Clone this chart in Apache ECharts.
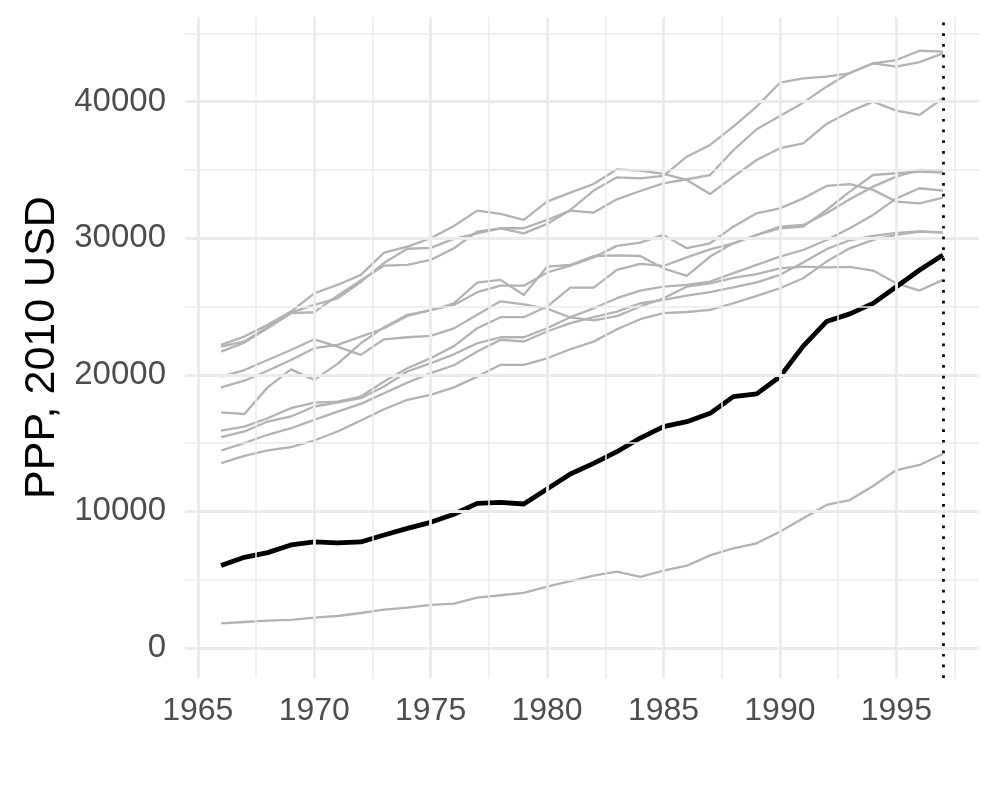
<!DOCTYPE html>
<html>
<head>
<meta charset="utf-8">
<script src="https://cdn.jsdelivr.net/npm/echarts@6/dist/echarts.min.js"></script>
<style>html,body{margin:0;padding:0;background:#fff;}#c{width:1000px;height:800px;}</style>
</head>
<body>
<div id="c"></div>
<script>
const years = [1966,1967,1968,1969,1970,1971,1972,1973,1974,1975,1976,1977,1978,1979,1980,1981,1982,1983,1984,1985,1986,1987,1988,1989,1990,1991,1992,1993,1994,1995,1996,1997];
const treated = [6030,6640,6980,7540,7760,7690,7760,8270,8760,9200,9790,10590,10660,10540,11640,12740,13520,14370,15370,16200,16570,17180,18400,18600,19860,22100,23900,24460,25230,26450,27670,28770];
const donorA = [22190,22800,23660,24630,25970,26580,27320,28950,29390,30000,30900,32020,31780,31340,32680,33340,33970,35050,34950,34710,34270,33240,34510,35730,36590,36950,38370,39270,40000,39340,39030,40250];
const donorB = [21700,22360,23410,24510,24580,25800,26900,28000,28050,28410,29270,30490,30730,30360,31050,32070,33490,34460,34390,34560,35970,36830,38170,39640,41390,41710,41830,42080,42810,43050,43730,43660];
const donorC = [22070,22440,23500,24550,25120,25600,26800,28200,29230,29300,29950,30360,30730,30730,31340,32020,31880,32850,33460,34020,34320,34630,36440,37980,38950,39930,41100,42120,42800,42560,42900,43540];
const donorD = [19860,20350,21080,21820,22600,22070,21460,22600,22750,22850,23400,24400,25380,25150,24850,24200,23980,24300,25000,25600,26450,26700,27100,27380,27800,27920,27870,27900,27630,26700,26170,26950];
const donorE = [19080,19570,20300,21080,21950,22190,22800,23410,24310,24750,25120,26050,26530,26530,27490,28000,28600,29440,29680,30240,29270,29630,30850,31830,32190,32920,33830,33970,33540,32680,32560,32970];
const donorF = [17250,17130,19080,20400,19630,20800,22310,23490,24390,24710,25240,26750,26950,25850,27920,28040,28700,28750,28700,27800,27240,28660,29630,30240,30850,30970,31830,32850,33780,34510,35000,34950];
const donorG = [15920,16210,16820,17560,17970,18040,18410,19510,20480,21220,22100,23410,24220,24220,25000,26390,26390,27680,28120,27970,28600,29190,29630,30240,30730,30850,32070,33410,34630,34760,34880,34800];
const donorH = [15430,15850,16580,16950,17680,17970,18290,19140,20240,20850,21500,22310,22750,22750,23410,24220,24870,25610,26170,26460,26580,26830,27440,28050,28660,29140,29870,30730,31710,32920,33660,33490];
const donorI = [14460,15000,15610,16090,16700,17310,17870,18650,19430,20120,20700,21700,22560,22440,23170,23780,24220,24630,25240,25480,25800,26050,26400,26770,27320,28230,29200,29850,30180,30390,30510,30430];
const donorJ = [13530,14070,14460,14700,15190,15850,16650,17480,18170,18530,19080,19870,20730,20730,21210,21870,22430,23340,24070,24510,24600,24750,25240,25780,26340,27070,28290,29260,29880,30240,30490,30410];
const donorK = [1800,1900,2000,2050,2220,2340,2560,2800,2950,3150,3240,3680,3860,4030,4490,4900,5290,5590,5200,5660,6020,6780,7300,7660,8510,9490,10470,10830,11860,13030,13400,14200];
const donors = [donorA,donorB,donorC,donorD,donorE,donorF,donorG,donorH,donorI,donorJ,donorK];
const xTicks = [1965,1970,1975,1980,1985,1990,1995];
const xMinor = [1967.5,1972.5,1977.5,1982.5,1987.5,1992.5,1997.5];
const yTicks = [0,10000,20000,30000,40000];
const yMinor = [5000,15000,25000,35000,45000];
const interventionYear = 1997;

const pairs = v => years.map((y,i)=>[y, v[i]]);
const major = {color:'#ebebeb', width:2.8, type:'solid'};
const minor = {color:'#ebebeb', width:1.5, type:'solid'};
const gridLines = [];
xTicks.forEach(v=>gridLines.push({xAxis:v, lineStyle:major}));
xMinor.forEach(v=>gridLines.push({xAxis:v, lineStyle:minor}));
yTicks.forEach(v=>gridLines.push({yAxis:v, lineStyle:major}));
yMinor.forEach(v=>gridLines.push({yAxis:v, lineStyle:minor}));

const series = [{
  type:'line', data:[], z:1, silent:true,
  markLine:{silent:true, symbol:'none', label:{show:false}, animation:false, data:gridLines}
}];
donors.forEach(d=>series.push({
  type:'line', data:pairs(d), symbol:'none', z:2, silent:true,
  lineStyle:{color:'#b3b3b3', width:2.3}
}));
series.push({
  type:'line', data:pairs(treated), symbol:'none', z:4, silent:true,
  lineStyle:{color:'#000', width:4.8, join:'round'},
  markLine:{silent:true, symbol:'none', label:{show:false}, animation:false,
    data:[{xAxis:interventionYear, lineStyle:{color:'#000', width:2.7, type:[2.7,8], cap:'butt'}}]}
});

const chart = echarts.init(document.getElementById('c'), null, {renderer:'canvas'});
chart.setOption({
  animation:false,
  backgroundColor:'#fff',
  grid:{left:185, right:21, top:17, bottom:122, containLabel:false},
  xAxis:{type:'value', min:1964.45, max:1998.55,
    axisLine:{show:false}, axisTick:{show:false}, splitLine:{show:false},
    axisLabel:{customValues:xTicks, color:'#4d4d4d', fontSize:32, fontFamily:'Liberation Sans', margin:17, formatter:v=>String(v)}},
  yAxis:{type:'value', min:-2200, max:46200,
    name:'PPP, 2010 USD', nameLocation:'middle', nameGap:119,
    nameTextStyle:{color:'#000', fontSize:43, fontFamily:'Liberation Sans'},
    axisLine:{show:false}, axisTick:{show:false}, splitLine:{show:false},
    axisLabel:{customValues:yTicks, color:'#4d4d4d', fontSize:33, fontFamily:'Liberation Sans', margin:19, formatter:v=>String(v)}},
  series:series
});
</script>
</body>
</html>
